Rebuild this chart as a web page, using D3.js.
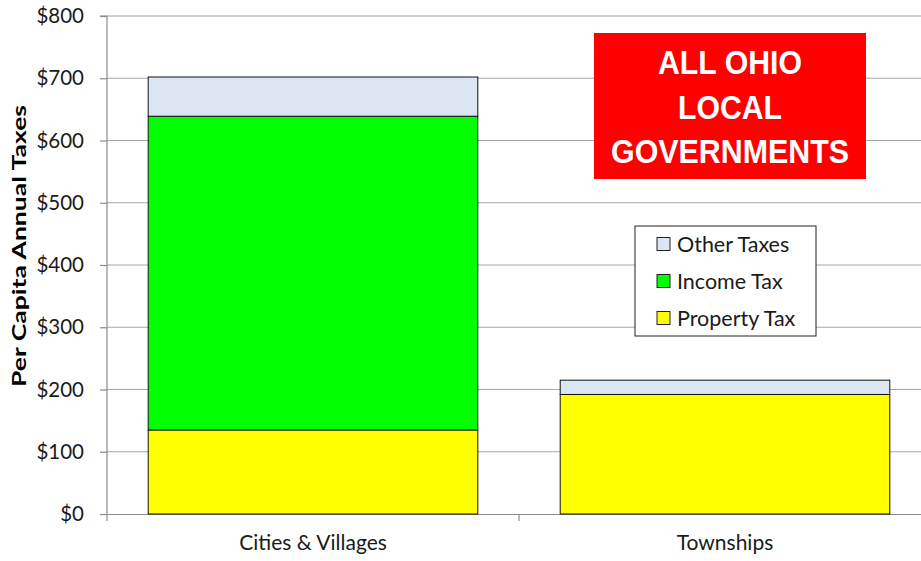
<!DOCTYPE html>
<html>
<head>
<meta charset="utf-8">
<script src="https://cdn.jsdelivr.net/npm/d3@7"></script>
<style>
  body { margin: 0; background: #fff; }
  svg { display: block; font-family: Lato, "Open Sans", sans-serif; }
</style>
</head>
<body>
<svg id="chart" width="921" height="561"></svg>
<script>
// data
const categories = ["Cities & Villages", "Townships"];
const propertyTax = [135, 192];
const incomeTax = [504, 0];
const otherTaxes = [63, 23];
const seriesNames = ["Property Tax", "Income Tax", "Other Taxes"];
const seriesColors = ["#ffff00", "#00ff00", "#dce6f2"];
const yTicks = [0, 100, 200, 300, 400, 500, 600, 700, 800];
const titleLines = ["ALL OHIO", "LOCAL", "GOVERNMENTS"];

const svg = d3.select("#chart");
const plotL = 107, plotR = 931, plotT = 16, plotB = 514;

const x = d3.scaleBand().domain(categories).range([plotL, plotR]).paddingInner(0.2).paddingOuter(0.1);
const y = d3.scaleLinear().domain([0, 800]).range([plotB, plotT]);

// gridlines
svg.append("g").selectAll("line").data(yTicks.slice(1)).join("line")
  .attr("x1", plotL).attr("x2", plotR).attr("y1", d => y(d)).attr("y2", d => y(d))
  .attr("stroke", "#a6a6a6").attr("stroke-width", 1.2);

// y axis
const yAxis = svg.append("g").attr("transform", `translate(${plotL},0)`)
  .call(d3.axisLeft(y).tickValues(yTicks).tickSize(7).tickPadding(16).tickFormat(d => "$" + d));
yAxis.select(".domain").attr("stroke", "#8c8c8c").attr("stroke-width", 1.2).attr("d", `M-7,${plotT}H0V${plotB}`);
yAxis.selectAll(".tick line").attr("stroke", "#8c8c8c").attr("stroke-width", 1.2);
yAxis.selectAll(".tick text").attr("font-size", 20.5).attr("fill", "#1a1a1a").attr("font-family", "Lato, sans-serif");

// x axis
const xAxis = svg.append("g").attr("transform", `translate(0,${plotB})`)
  .call(d3.axisBottom(x).tickSize(0).tickPadding(21));
xAxis.select(".domain").attr("stroke", "#8c8c8c").attr("stroke-width", 1.2);
xAxis.selectAll(".tick text").attr("font-size", 21).attr("fill", "#1a1a1a").attr("font-family", "Lato, sans-serif");
const step = x.step();
svg.append("g").selectAll("line").data([0, 1, 2]).join("line")
  .attr("x1", i => plotL + i * step).attr("x2", i => plotL + i * step)
  .attr("y1", plotB).attr("y2", plotB + 7).attr("stroke", "#8c8c8c").attr("stroke-width", 1.2);

// stacked bars
const rows = categories.map((c, i) => ({cat: c, "Property Tax": propertyTax[i], "Income Tax": incomeTax[i], "Other Taxes": otherTaxes[i]}));
const stack = d3.stack().keys(seriesNames)(rows);
const color = d3.scaleOrdinal().domain(seriesNames).range(seriesColors);
svg.append("g").selectAll("g").data(stack).join("g").attr("fill", d => color(d.key))
  .selectAll("rect").data(d => d.filter(p => p[1] > p[0])).join("rect")
  .attr("x", d => x(d.data.cat)).attr("width", x.bandwidth())
  .attr("y", d => y(d[1])).attr("height", d => y(d[0]) - y(d[1]))
  .attr("stroke", "#111").attr("stroke-width", 1);

// y label
svg.append("text").attr("transform", "translate(26,246) rotate(-90)")
  .attr("text-anchor", "middle").attr("font-size", 19).attr("font-weight", "bold")
  .attr("font-family", "Lato, sans-serif").attr("textLength", 282).attr("lengthAdjust", "spacingAndGlyphs")
  .text("Per Capita Annual Taxes");

// title box
svg.append("rect").attr("x", 594).attr("y", 33).attr("width", 272).attr("height", 146).attr("fill", "#ff0000");
const titleWidths = [144, 104, 238];
svg.append("g").selectAll("text").data(titleLines).join("text")
  .attr("x", 730).attr("y", (d, i) => 74 + i * 44.5)
  .attr("text-anchor", "middle").attr("fill", "#fff").attr("font-weight", "bold")
  .attr("font-size", 34).attr("font-family", "'Liberation Sans', Arial, sans-serif")
  .attr("textLength", (d, i) => titleWidths[i]).attr("lengthAdjust", "spacingAndGlyphs")
  .text(d => d);

// legend
const legend = svg.append("g");
legend.append("rect").attr("x", 635).attr("y", 226).attr("width", 181).attr("height", 110)
  .attr("fill", "#fff").attr("stroke", "#222").attr("stroke-width", 1);
const legendOrder = seriesNames.slice().reverse();
const li = legend.selectAll("g").data(legendOrder).join("g")
  .attr("transform", (d, i) => `translate(657,${244 + i * 37})`);
li.append("rect").attr("x", 0).attr("y", -6.5).attr("width", 13).attr("height", 13)
  .attr("fill", d => color(d)).attr("stroke", "#222").attr("stroke-width", 1);
li.append("text").attr("x", 20).attr("y", 0).attr("dy", "0.35em").attr("font-size", 21.5)
  .attr("fill", "#1a1a1a").attr("font-family", "Lato, sans-serif").text(d => d);
</script>
</body>
</html>
